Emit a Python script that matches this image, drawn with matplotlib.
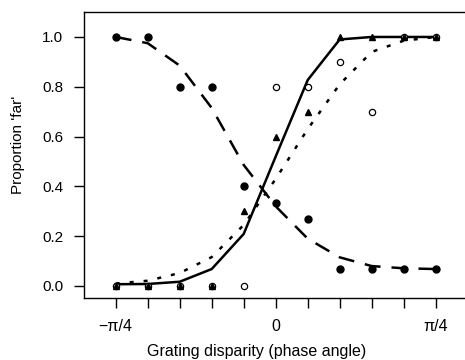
import numpy as np
import matplotlib
matplotlib.use("Agg")
import matplotlib.pyplot as plt

plt.rcParams["font.family"] = ["Liberation Sans", "DejaVu Sans"]

# disparity in steps of pi/20, from -pi/4 to pi/4
steps = [-5, -4, -3, -2, -1, 0, 1, 2, 3, 4, 5]
disparity = np.array(steps) * np.pi / 20

# observed proportions
far_filled = [1.0, 1.0, 0.8, 0.8, 0.4, 0.333, 0.267, 0.067, 0.067, 0.067, 0.067]
far_triangle = [0.0, 0.0, 0.0, 0.0, 0.3, 0.6, 0.7, 1.0, 1.0, 1.0, 1.0]
far_open = [0.0, 0.0, 0.0, 0.0, 0.0, 0.8, 0.8, 0.9, 0.7, 1.0, 1.0]

# fitted curves
fit_filled = [1.0, 0.975, 0.885, 0.715, 0.486, 0.32, 0.19, 0.115, 0.08, 0.071, 0.068]
fit_triangle = [0.007, 0.008, 0.017, 0.068, 0.209, 0.52, 0.827, 0.99, 1.0, 1.0, 1.0]
fit_open = [0.01, 0.021, 0.052, 0.116, 0.245, 0.43, 0.63, 0.81, 0.94, 0.985, 1.0]

xtick_pos = [-np.pi / 4, 0, np.pi / 4]
xtick_lab = ["\u2212\u03c0/4", "0", "\u03c0/4"]
ytick_pos = [0.0, 0.2, 0.4, 0.6, 0.8, 1.0]

fig = plt.figure(figsize=(4.65, 3.6), dpi=100)
ax = fig.add_axes([0.1806, 0.1731, 0.8246, 0.7927])

lw = 1.8
ax.plot(disparity, fit_filled, color="black", lw=lw, dashes=(6.4, 4.4), zorder=3)
ax.plot(disparity, fit_triangle, color="black", lw=lw, solid_joinstyle="miter", zorder=3)
ax.plot(disparity, fit_open, color="black", lw=lw, dashes=(1.6, 4.0), zorder=3)

ax.plot(disparity, far_open, "o", ms=4.5, mfc="white", mec="black", mew=0.9, ls="none", zorder=4)
ax.plot(disparity, far_triangle, "^", ms=5.0, color="black", ls="none", zorder=5)
ax.plot(disparity, far_filled, "o", ms=5.0, color="black", ls="none", zorder=6)

ax.set_xlim(-0.941, 0.941)
ax.set_ylim(-0.047, 1.099)

ax.set_xticks(xtick_pos)
ax.set_xticklabels(xtick_lab)
ax.set_xticks(disparity, minor=True)
ax.set_yticks(ytick_pos)
ax.set_yticklabels([f"{v:.1f}" for v in ytick_pos])

ax.tick_params(axis="both", which="both", direction="out", length=7.0, width=1.0,
               color="black")
ax.tick_params(axis="x", which="major", pad=8, labelsize=11.5)
ax.tick_params(axis="y", pad=8, labelsize=11)

for sp in ax.spines.values():
    sp.set_linewidth(1.0)

ax.set_xlabel("Grating disparity (phase angle)", fontsize=11.5)
ax.set_ylabel("Proportion 'far'", fontsize=11)
ax.xaxis.set_label_coords(0.449, -0.163)
ax.yaxis.set_label_coords(-0.153, 0.535)

fig.savefig("out.png", dpi=100)
